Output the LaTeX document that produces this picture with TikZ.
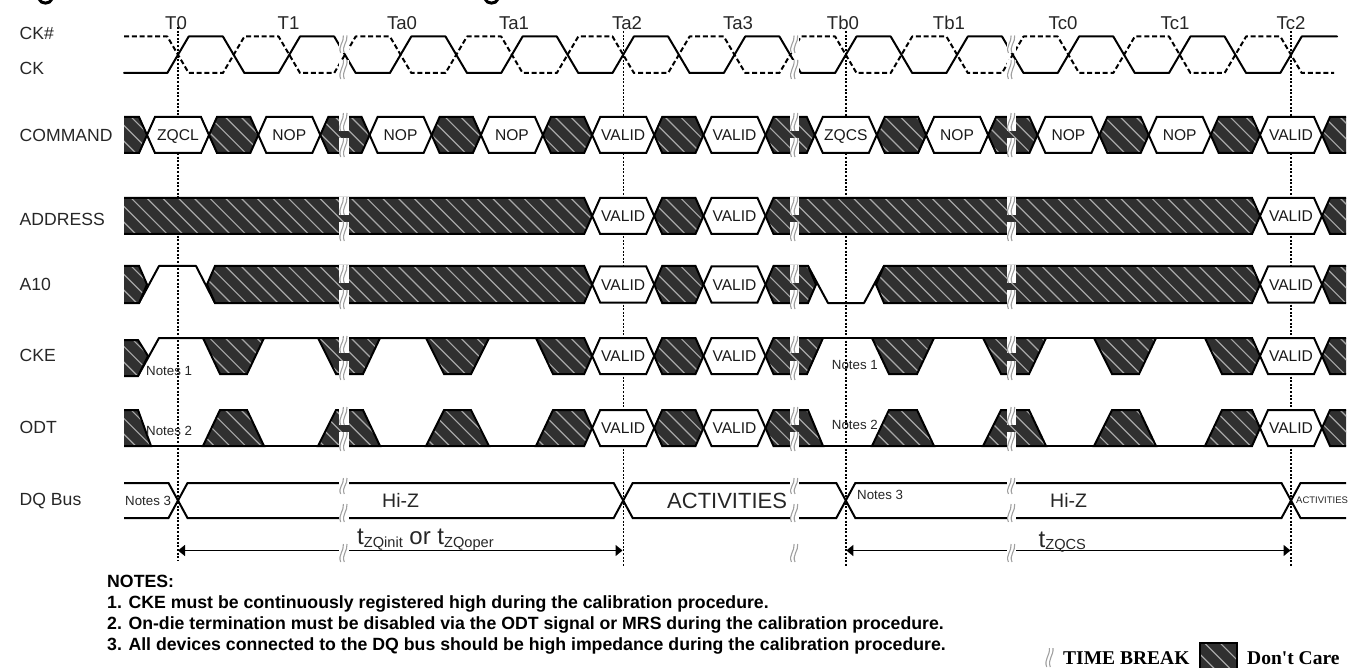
\documentclass[tikz,border=0pt]{standalone}
\usepackage{fontspec}
\setmainfont{Liberation Sans}
\newfontfamily\legendfont{Liberation Serif}
\usetikzlibrary{arrows.meta}
\definecolor{dcdark}{HTML}{303030}
\definecolor{dchatch}{HTML}{A8A8A8}
\definecolor{brk}{HTML}{A0A0A0}
\newcommand\fsz[1]{\fontsize{#1pt}{#1pt}\selectfont}
\tikzset{
  wave/.style={line width=2pt,line join=round,line cap=round,black},
  dashwave/.style={wave,line cap=butt,dash pattern=on 5pt off 2.8pt},
  edgeline/.style={line width=2pt,line join=miter,black},
  hatchline/.style={line width=1.2pt,dchatch},
  refline/.style={line width=1.4pt,dash pattern=on 2pt off 1.6pt,black},
  hexshape/.style={line width=2pt,fill=white,draw=black,line join=miter},
  hextext/.style={anchor=base,inner sep=0pt,font=\fsz{15.6},text=black!90},
  siglabel/.style={anchor=base west,inner sep=0pt,font=\fsz{17.6},text=black!85},
  ticklabel/.style={anchor=base,inner sep=0pt,font=\fsz{18.6},text=black!85},
  notetext/.style={anchor=base west,inner sep=0pt,font=\fsz{13.3},text=black!85},
  hiz/.style={anchor=base west,inner sep=0pt,font=\fsz{19.5},text=black!85},
  notesbody/.style={anchor=base west,inner sep=0pt,font=\fsz{17.7}\bfseries},
  legendtext/.style={anchor=base west,inner sep=0pt,font=\fsz{19.5}\legendfont\bfseries},
  span/.style={line width=1.3pt,black,{Triangle[length=7pt,width=11pt]}-{Triangle[length=7pt,width=11pt]}},
}
% dark segments
\def\dseg#1#2{(#1,\ymid) -- ({#1+8},\ytop) -- ({#2-8},\ytop) -- (#2,\ymid) -- ({#2-8},\ybot) -- ({#1+8},\ybot) -- cycle }
\def\dL#1{(121,\ytop) -- ({#1-8},\ytop) -- (#1,\ymid) -- ({#1-8},\ybot) -- (121,\ybot) -- cycle }
\def\dR#1{(#1,\ymid) -- ({#1+8},\ytop) -- (1349,\ytop) -- (1349,\ybot) -- ({#1+8},\ybot) -- cycle }
\def\trapD#1#2#3#4{(#1,\ytop) -- (#4,\ytop) -- (#3,\ybot) -- (#2,\ybot) -- cycle }
\def\trapU#1#2#3#4{(#1,\ybot) -- (#2,\ytop) -- (#3,\ytop) -- (#4,\ybot) -- cycle }
\newcommand\darkrow[4]{%
  \def\ytop{#1}\def\ymid{#2}\def\ybot{#3}%
  \begin{scope}
    \clip (124,#1-6) rectangle (1346,#3+6);
    \begin{scope}
      \clip #4;
      \fill[dcdark] (100,#1-4) rectangle (1354,#3+4);
      \foreach \k in {0,...,86} \draw[hatchline] ({80+15.7*\k},#1-4) -- ({80+15.7*\k+#3-#1+8},#3+4);
    \end{scope}
    \draw[edgeline] #4;
  \end{scope}
}
\newcommand\hx[4]{%
  \draw[hexshape] ({#2-31},#3) -- ({#2-23},{#3-18}) -- ({#2+23},{#3-18}) -- ({#2+31},#3) -- ({#2+23},{#3+18}) -- ({#2-23},{#3+18}) -- cycle;
  \node[hextext] (#1) at (#2,{#3+5.6}) {#4};
}
\newcommand\brk[3]{%
  \fill[white] ({#1-4.7},#2) rectangle ({#1+4.7},#3);
  \squig{#1}{#2}{#3}
}
\newcommand\squig[3]{%
  \draw[brk,line width=1.1pt] ({#1-3.3},#3) .. controls ({#1-6.3},{#2+0.6*(#3-#2)}) and ({#1+0.2},{#2+0.4*(#3-#2)}) .. ({#1-0.6},#2);
  \draw[brk,line width=1.1pt] ({#1+0.3},#3) .. controls ({#1-2.7},{#2+0.6*(#3-#2)}) and ({#1+3.8},{#2+0.4*(#3-#2)}) .. ({#1+3},#2);
}
\begin{document}
\begin{tikzpicture}[x=1pt,y=-1pt]
\useasboundingbox (0,0) rectangle (1354,668);
\clip (0,0) rectangle (1354,668);
% remains of the clipped heading
\draw[line width=3pt,black] (39,-1) .. controls (41,4.5) and (50,4.5) .. (52,-1);
\draw[line width=3pt,black] (485,-1) .. controls (487,4.5) and (496,4.5) .. (498,-1);
% reference lines
\draw[refline] (178,27) -- (178,560);
\draw[refline] (623.2,31) -- (623.2,567);
\draw[refline] (845.8,31) -- (845.8,567);
\draw[refline] (1291,31) -- (1291,567);
% clock
\draw[dashwave] (124,36.5) foreach \i in {0,...,9} { -- ({178+111.3*\i-10.7},36.5) -- ({178+111.3*\i+10.7},73) -- ({178+111.3*\i+44.9},73) -- ({178+111.3*\i+66.4},36.5) } -- (1280.3,36.5) -- (1301.7,73) -- (1334,73);
\draw[wave] (124,73) foreach \i in {0,...,9} { -- ({178+111.3*\i-10.7},73) -- ({178+111.3*\i+10.7},36.5) -- ({178+111.3*\i+44.9},36.5) -- ({178+111.3*\i+66.4},73) } -- (1280.3,73) -- (1301.7,36.5) -- (1337,36.5);
% COMMAND
\darkrow{117}{135}{153}{\dL{147} \dseg{209}{258.3} \dseg{320.3}{369.6} \dseg{431.6}{480.9} \dseg{542.9}{592.2} \dseg{654.2}{703.5} \dseg{765.5}{814.8} \dseg{876.8}{926.1} \dseg{988.1}{1037.4} \dseg{1099.4}{1148.7} \dseg{1210.7}{1260} \dR{1322}}
\hx{cmdA}{178}{135}{ZQCL}
\hx{cmdB}{289.3}{135}{NOP}
\hx{cmdC}{400.6}{135}{NOP}
\hx{cmdD}{511.9}{135}{NOP}
\hx{cmdE}{623.2}{135}{VALID}
\hx{cmdF}{734.5}{135}{VALID}
\hx{cmdG}{845.8}{135}{ZQCS}
\hx{cmdH}{957.1}{135}{NOP}
\hx{cmdI}{1068.4}{135}{NOP}
\hx{cmdJ}{1179.7}{135}{NOP}
\hx{cmdK}{1291}{135}{VALID}
% ADDRESS
\darkrow{198}{216}{234}{\dL{592.2} \dseg{654.2}{703.5} \dseg{765.5}{1260} \dR{1322}}
\hx{adrA}{623.2}{216}{VALID}
\hx{adrB}{734.5}{216}{VALID}
\hx{adrC}{1291}{216}{VALID}
% A10
\draw[wave] (139,303) -- (159,266) -- (196,266) -- (215,303);
\draw[wave] (808,266) -- (828,303) -- (864,303) -- (884,266);
\darkrow{266}{284.5}{303}{\dL{147} \dseg{207}{592.2} \dseg{654.2}{703.5} \dseg{765.5}{816} \dseg{876}{1260} \dR{1322}}
\hx{tenA}{623.2}{284.5}{VALID}
\hx{tenB}{734.5}{284.5}{VALID}
\hx{tenC}{1291}{284.5}{VALID}
% CKE
\draw[wave] (138,376) -- (159,338) -- (536,338);
\draw[wave] (823,338) -- (1205,338);
\darkrow{338}{356}{374}{(121,340) -- (138,340) -- (148,356) -- (138,376) -- (121,376) -- cycle \trapD{203}{220}{247}{264} \trapD{318}{336}{363}{380} \trapD{426}{444}{471}{489} (536,338) -- (584.2,338) -- (592.2,356) -- (584.2,374) -- (553,374) -- cycle \dseg{654.2}{703.5} (765.5,356) -- (773.5,338) -- (823,338) -- (807,374) -- (773.5,374) -- cycle \trapD{872}{889}{917}{934} \trapD{983}{1001}{1029}{1046} \trapD{1094}{1112}{1139}{1156} (1205,338) -- (1252,338) -- (1260,356) -- (1252,374) -- (1222,374) -- cycle \dR{1322}}
\hx{ckeA}{623.2}{356}{VALID}
\hx{ckeB}{734.5}{356}{VALID}
\hx{ckeC}{1291}{356}{VALID}
% ODT
\draw[wave] (151,446) -- (536,446);
\draw[wave] (823,446) -- (1205,446);
\darkrow{410}{428}{446}{(121,410) -- (138,410) -- (151,446) -- (121,446) -- cycle \trapU{203}{220}{247}{264} \trapU{318}{336}{363}{380} \trapU{426}{444}{471}{489} (536,446) -- (553,410) -- (584.2,410) -- (592.2,428) -- (584.2,446) -- cycle \dseg{654.2}{703.5} (765.5,428) -- (773.5,410) -- (808,410) -- (823,446) -- (773.5,446) -- cycle \trapU{872}{889}{917}{934} \trapU{983}{1001}{1029}{1046} \trapU{1094}{1112}{1139}{1156} (1205,446) -- (1222,410) -- (1252,410) -- (1260,428) -- (1252,446) -- cycle \dR{1322}}
\hx{odtA}{623.2}{428}{VALID}
\hx{odtB}{734.5}{428}{VALID}
\hx{odtC}{1291}{428}{VALID}
% DQ
\draw[edgeline] (124,483) -- (168.5,483) -- (187.5,518) -- (613.7,518) -- (632.7,483) -- (836.3,483) -- (855.3,518) -- (1281.5,518) -- (1300.5,483) -- (1346,483);
\draw[edgeline] (124,518) -- (168.5,518) -- (187.5,483) -- (613.7,483) -- (632.7,518) -- (836.3,518) -- (855.3,483) -- (1281.5,483) -- (1300.5,518) -- (1346,518);
% span arrows
\coordinate (sa) at (178,550.5);
\coordinate (sb) at (622.5,550.5);
\coordinate (sc) at (846.3,550.5);
\coordinate (sd) at (1290.5,550.5);
\draw[span] (sa) -- (sb);
\draw[span] (sc) -- (sd);
% time breaks
\foreach \b in {344,794.7,1011.7} {
  \brk{\b}{35.5}{53}\brk{\b}{60}{79}
  \brk{\b}{113}{131}\brk{\b}{138}{157}
  \brk{\b}{197}{215}\brk{\b}{222}{241}
  \brk{\b}{265}{283}\brk{\b}{290}{309}
  \brk{\b}{336}{353}\brk{\b}{361}{380}
  \brk{\b}{407}{425}\brk{\b}{432}{451}
  \brk{\b}{478}{494}\brk{\b}{504}{522}
  \brk{\b}{544}{562}
}
% signal labels
\node[siglabel] (lckn) at (19.5,39.5) {CK\#};
\node[siglabel] (lck) at (19.5,75) {CK};
\node[siglabel] (lcmd) at (19.5,141.3) {COMMAND};
\node[siglabel] (ladr) at (19.5,225.5) {ADDRESS};
\node[siglabel] (lten) at (19.5,290.5) {A10};
\node[siglabel] (lcke) at (19.5,361.5) {CKE};
\node[siglabel] (lodt) at (19.5,433.5) {ODT};
\node[siglabel] (ldq) at (19.5,505.5) {DQ Bus};
% clock labels
\node[ticklabel] (tA) at (176,29.5) {T0};
\node[ticklabel] (tB) at (288.5,29.5) {T1};
\node[ticklabel] (tC) at (402,29.5) {Ta0};
\node[ticklabel] (tD) at (514,29.5) {Ta1};
\node[ticklabel] (tE) at (627,29.5) {Ta2};
\node[ticklabel] (tF) at (738,29.5) {Ta3};
\node[ticklabel] (tG) at (843,29.5) {Tb0};
\node[ticklabel] (tH) at (949,29.5) {Tb1};
\node[ticklabel] (tI) at (1063,29.5) {Tc0};
\node[ticklabel] (tJ) at (1175,29.5) {Tc1};
\node[ticklabel] (tK) at (1291,29.5) {Tc2};
% notes on the waves
\node[notetext] (nA) at (146,375) {Notes 1};
\node[notetext] (nB) at (146,435.5) {Notes 2};
\node[notetext] (nC) at (831.7,369) {Notes 1};
\node[notetext] (nD) at (831.7,429) {Notes 2};
\node[notetext] (nE) at (125,505.5) {Notes 3};
\node[notetext] (nF) at (857,499) {Notes 3};
\node[hiz] (hzA) at (382,507.3) {Hi-Z};
\node[hiz] (hzB) at (1050,507.3) {Hi-Z};
\node[hiz,font=\fsz{22}] (acA) at (667,508) {ACTIVITIES};
\node[notetext,font=\fsz{9.5}] (acB) at (1296,503.5) {ACTIVITIES};
% span labels
\node[anchor=base west,inner sep=0pt,font=\fsz{24},text=black!85] (spA) at (357,544) {t{\fsz{14.6}\raisebox{-3pt}{ZQinit}} or t{\fsz{14.6}\raisebox{-3pt}{ZQoper}}};
\node[anchor=base west,inner sep=0pt,font=\fsz{24},text=black!85] (spB) at (1038.5,547) {t{\fsz{14.6}\raisebox{-2.5pt}{ZQCS}}};
% notes
\node[notesbody] (ntH) at (107,587.5) {NOTES:};
\node[notesbody] (ntA) at (107,608.5) {1. CKE must be continuously registered high during the calibration procedure.};
\node[notesbody] (ntB) at (107,629.5) {2. On-die termination must be disabled via the ODT signal or MRS during the calibration procedure.};
\node[notesbody] (ntC) at (107,650.5) {3. All devices connected to the DQ bus should be high impedance during the calibration procedure.};
% legend
\squig{1050}{648}{667}
\node[legendtext] (lgA) at (1063,664) {TIME BREAK};
\begin{scope}
  \clip (1200,643) rectangle (1237,670);
  \fill[dcdark] (1200,643) rectangle (1237,670);
  \foreach \k in {0,...,5} \draw[hatchline] ({1170+15.7*\k},640) -- ({1170+15.7*\k+33},673);
\end{scope}
\draw[line width=2pt,black] (1200,670) -- (1200,643) -- (1237,643) -- (1237,670);
\node[legendtext] (lgB) at (1247,664) {Don't Care};
\end{tikzpicture}
\end{document}
